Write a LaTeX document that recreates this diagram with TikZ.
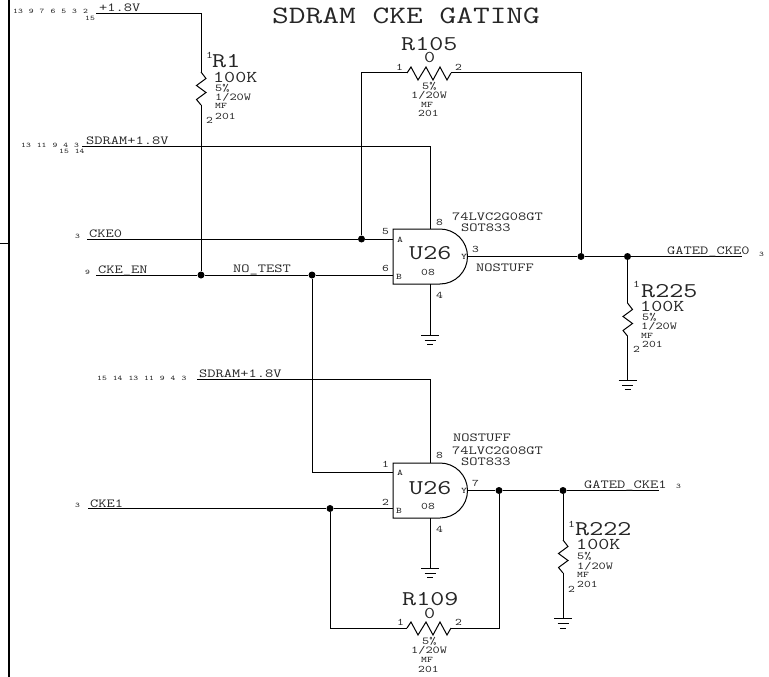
\documentclass[tikz,border=0pt]{standalone}
\usepackage{xcolor}
\usepackage{fontspec}
\setmonofont[FakeStretch=1.3]{Latin Modern Mono}
\usepackage{tikz}
\newcommand{\gp}{\hspace{6pt}}
\tikzset{
  txt/.style={anchor=base west,inner sep=0pt,text=black!85},
  title/.style={txt,font=\ttfamily\fontsize{25}{25}\selectfont},
  refdes/.style={txt,font=\ttfamily\fontsize{21}{20}\selectfont},
  val/.style={txt,font=\ttfamily\fontsize{16.5}{16}\selectfont},
  net/.style={txt,font=\ttfamily\fontsize{12.3}{12}\selectfont},
  spec/.style={txt,font=\ttfamily\fontsize{10.5}{10}\selectfont},
  tiny/.style={txt,font=\ttfamily\fontsize{8.5}{8}\selectfont},
  pin/.style={txt,font=\ttfamily\fontsize{10}{10}\selectfont},
  offpg/.style={txt,font=\ttfamily\fontsize{7}{7}\selectfont},
  wire/.style={draw,line width=1pt},
  dot/.style={circle,fill=black,inner sep=0pt,minimum size=7pt},
  gnd/.pic={
    \draw[line width=1pt] (-9,0) -- (9,0) (-5.5,5) -- (5.5,5) (-3,9.5) -- (3,9.5);
  },
  resv/.pic={
    \draw[line width=1pt] (0,0) -- (5,6.5) -- (-4.5,13.5) -- (5,20.5) -- (-4.5,27.5) -- (0,33);
  },
  resh/.pic={
    \draw[line width=1pt] (0,0) -- (4,-6) -- (11,7) -- (19,-6) -- (26,7) -- (33,-6) -- (40,7) -- (44,0);
  }
}
\begin{document}
\begin{tikzpicture}[x=1pt,y=-1pt]
\useasboundingbox (0,0) rectangle (769,677);
% frame
\coordinate (frametop) at (8.5,0);
\coordinate (framebot) at (8.5,677);
\coordinate (stubl) at (0,243);
\coordinate (stubr) at (8.5,243);
\draw[line width=2pt] (frametop) -- (framebot);
\draw[line width=1pt] (stubl) -- (stubr);

\node[title] (titletxt) at (272,24) {SDRAM CKE GATING};

% first gate
\coordinate (uatl) at (393,229);
\coordinate (uabl) at (393,284);
\coordinate (uaa) at (393,239);
\coordinate (uab) at (393,275);
\coordinate (uay) at (467,256.5);
\coordinate (uav) at (430,229);
\coordinate (uag) at (430,284);
\draw[line width=1pt] (uatl) -- (440,229) arc (-90:90:27.5) -- (uabl) -- cycle;
\node[refdes] (uaref) at (409,259) {U26};
\node[pin] (uaval) at (421,275) {08};
\node[tiny] (uapa) at (397,242) {A};
\node[tiny] (uapb) at (396,279) {B};
\node[tiny] (uapy) at (461,259) {Y};
\node[pin] (uan8) at (436,225) {8};
\node[pin] (uan5) at (382,234) {5};
\node[pin] (uan6) at (382,271) {6};
\node[pin] (uan4) at (436,298) {4};
\node[pin] (uan3) at (472,252) {3};
\node[net] (uapart) at (452,220) {74LVC2G08GT};
\node[net] (uapkg) at (461,231) {SOT833};
\node[net] (uans) at (476,271) {NOSTUFF};

% second gate
\coordinate (ubtl) at (393,463);
\coordinate (ubbl) at (393,518);
\coordinate (uba) at (393,472);
\coordinate (ubb) at (393,508.5);
\coordinate (uby) at (467,490.5);
\coordinate (ubv) at (430,463);
\coordinate (ubg) at (430,518);
\draw[line width=1pt] (ubtl) -- (440,463) arc (-90:90:27.5) -- (ubbl) -- cycle;
\node[refdes] (ubref) at (409,494) {U26};
\node[pin] (ubval) at (421,509) {08};
\node[tiny] (ubpa) at (397,475) {A};
\node[tiny] (ubpb) at (396,513) {B};
\node[tiny] (ubpy) at (461,493) {Y};
\node[pin] (ubn8) at (436,458) {8};
\node[pin] (ubn1) at (382,467) {1};
\node[pin] (ubn2) at (382,505) {2};
\node[pin] (ubn4) at (436,532) {4};
\node[pin] (ubn7) at (472,486) {7};
\node[net] (ubns) at (453,441) {NOSTUFF};
\node[net] (ubpart) at (452,454) {74LVC2G08GT};
\node[net] (ubpkg) at (461,465) {SOT833};

% junctions
\node[dot] (jen) at (201,275) {};
\node[dot] (jnt) at (312,275) {};
\node[dot] (jck) at (361.5,239) {};
\node[dot] (joa) at (581,256.5) {};
\node[dot] (job) at (627.5,256.5) {};
\node[dot] (jfb) at (330,508.5) {};
\node[dot] (jya) at (499,490.5) {};
\node[dot] (jyb) at (563,490.5) {};

% nets
\coordinate (va) at (96,14);
\coordinate (vb) at (201,14);
\coordinate (raa) at (201,72);
\coordinate (rab) at (201,105);
\draw[wire] (va) -- (vb) -- (raa);
\draw[wire] (rab) -- (jen);
\pic at (raa) {resv};

\coordinate (sa) at (82,146);
\coordinate (sb) at (430,146);
\draw[wire] (sa) -- (sb) -- (uav);
\coordinate (sc) at (197,379);
\coordinate (sd) at (430,379);
\draw[wire] (sc) -- (sd) -- (ubv);

\coordinate (cka) at (87,239);
\draw[wire] (cka) -- (jck) -- (uaa);
\coordinate (ena) at (96,275);
\draw[wire] (ena) -- (jen) -- (jnt) -- (uab);
\coordinate (nta) at (312,472);
\draw[wire] (jnt) -- (nta) -- (uba);
\coordinate (ckb) at (88,508.5);
\draw[wire] (ckb) -- (jfb) -- (ubb);

\coordinate (rfa) at (361.5,73);
\coordinate (rfl) at (407,73);
\coordinate (rfr) at (451,73);
\coordinate (rfb) at (581,73);
\draw[wire] (jck) -- (rfa) -- (rfl);
\draw[wire] (rfr) -- (rfb) -- (joa);
\pic at (rfl) {resh};

\coordinate (gateo) at (742,256.5);
\draw[wire] (uay) -- (joa) -- (job) -- (gateo);
\coordinate (rca) at (627.5,303);
\coordinate (rcb) at (627.5,336);
\coordinate (rcg) at (627.5,380);
\draw[wire] (job) -- (rca);
\draw[wire] (rcb) -- (rcg);
\pic at (rca) {resv};
\pic at (rcg) {gnd};

\coordinate (gbteo) at (659,490.5);
\draw[wire] (uby) -- (jya) -- (jyb) -- (gbteo);
\coordinate (rda) at (563,540);
\coordinate (rdb) at (563,573);
\coordinate (rdg) at (563,618.5);
\draw[wire] (jyb) -- (rda);
\draw[wire] (rdb) -- (rdg);
\pic at (rda) {resv};
\pic at (rdg) {gnd};

\coordinate (rga) at (330,628);
\coordinate (rgl) at (407,628);
\coordinate (rgr) at (451,628);
\coordinate (rgb) at (499,628);
\draw[wire] (jfb) -- (rga) -- (rgl);
\draw[wire] (rgr) -- (rgb) -- (jya);
\pic at (rgl) {resh};

\coordinate (gnda) at (430,335);
\coordinate (gndb) at (430,568);
\draw[wire] (uag) -- (gnda);
\draw[wire] (ubg) -- (gndb);
\pic at (gnda) {gnd};
\pic at (gndb) {gnd};

% net names
\node[net] (vtxt) at (99,12) {+1.8V};
\node[net] (satxt) at (86,144) {SDRAM+1.8V};
\node[net] (sbtxt) at (199,377) {SDRAM+1.8V};
\node[net] (ckatxt) at (89,237) {CKE0};
\node[net] (entxt) at (98,273) {CKE\_EN};
\node[net] (nttxt) at (233,272) {NO\_TEST};
\node[net] (ckbtxt) at (90,507) {CKE1};
\node[net] (goatxt) at (667,254) {GATED\_CKE0};
\node[net] (gobtxt) at (584,488) {GATED\_CKE1};

% page refs
\node[offpg] (pga) at (13,14) {13\gp9\gp7\gp6\gp5\gp3\gp2};
\node[offpg] (pgb) at (85,21) {15};
\node[offpg] (pgc) at (21,147) {13\gp11\gp9\gp4\gp3};
\node[offpg] (pgd) at (59,153) {15\gp14};
\node[offpg] (pge) at (97,380) {15\gp14\gp13\gp11\gp9\gp4\gp3};
\node[offpg] (pgf) at (75,238) {3};
\node[offpg] (pgg) at (85,274) {9};
\node[offpg] (pgh) at (75,507) {3};
\node[offpg] (pgi) at (759,256) {3};
\node[offpg] (pgj) at (676,488) {3};

% R1
\node[pin] (rapa) at (206,59) {1};
\node[refdes] (raref) at (212,68) {R1};
\node[val] (raval) at (213,82) {100K};
\node[spec] (rapc) at (215,92) {5\%};
\node[spec] (rawt) at (215,101) {1/20W};
\node[tiny] (ramf) at (215,109) {MF};
\node[pin] (rasz) at (215,119) {201};
\node[pin] (rapb) at (206,123) {2};

% R105
\node[refdes] (rfref) at (401,51) {R105};
\node[val] (rfval) at (424,63) {0};
\node[pin] (rfpa) at (396,71) {1};
\node[pin] (rfpb) at (455,71) {2};
\node[spec] (rfpc) at (422,89) {5\%};
\node[spec] (rfwt) at (411,99) {1/20W};
\node[tiny] (rfmf) at (421,107) {MF};
\node[pin] (rfsz) at (418,117) {201};

% R225
\node[pin] (rcpa) at (633,287) {1};
\node[refdes] (rcref) at (641,297) {R225};
\node[val] (rcval) at (640,311) {100K};
\node[spec] (rcpc) at (642,320) {5\%};
\node[spec] (rcwt) at (641,329) {1/20W};
\node[tiny] (rcmf) at (641,338) {MF};
\node[pin] (rcsz) at (642,347) {201};
\node[pin] (rcpb) at (633,352) {2};

% R222
\node[pin] (rdpa) at (568,527) {1};
\node[refdes] (rdref) at (575,535) {R222};
\node[val] (rdval) at (576,549) {100K};
\node[spec] (rdpc) at (577,559) {5\%};
\node[spec] (rdwt) at (577,569) {1/20W};
\node[tiny] (rdmf) at (577,577) {MF};
\node[pin] (rdsz) at (577,587) {201};
\node[pin] (rdpb) at (568,592) {2};

% R109
\node[refdes] (rgref) at (402,605) {R109};
\node[val] (rgval) at (424,618) {0};
\node[pin] (rgpa) at (397,625) {1};
\node[pin] (rgpb) at (455,625) {2};
\node[spec] (rgpc) at (422,644) {5\%};
\node[spec] (rgwt) at (411,653) {1/20W};
\node[tiny] (rgmf) at (421,662) {MF};
\node[pin] (rgsz) at (418,672) {201};
\end{tikzpicture}
\end{document}
